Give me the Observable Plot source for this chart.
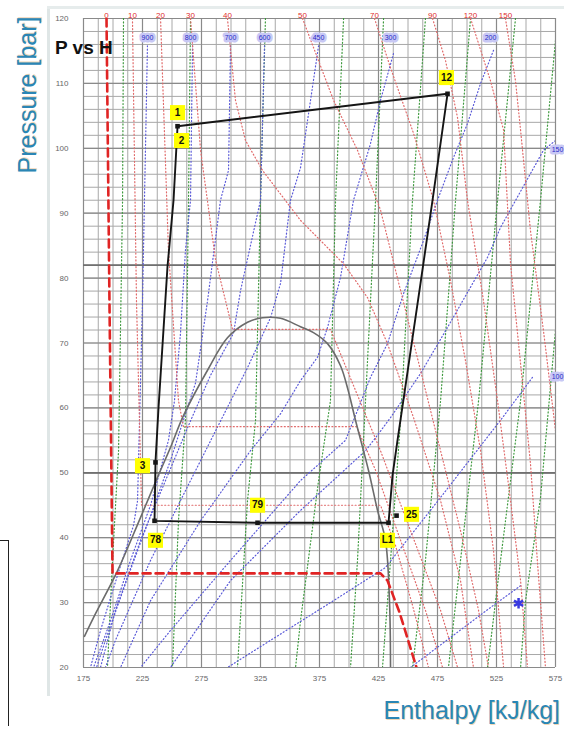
<!DOCTYPE html>
<html><head><meta charset="utf-8">
<script src="https://cdn.jsdelivr.net/npm/d3@7"></script>
<script src="https://cdn.jsdelivr.net/npm/@observablehq/plot@0.6"></script>
<style>
body{margin:0;background:#fff;font-family:"Liberation Sans",Arial,sans-serif;}
#wrap{position:relative;width:564px;height:731px;overflow:hidden;}
#wrap svg{position:absolute;left:0;top:0;}
.frameL{position:absolute;left:47px;top:6px;width:3px;height:690px;background:#dfe6e6;}
.frameT{position:absolute;left:47px;top:6px;width:517px;height:3px;background:#e6ecec;}
.corner{position:absolute;left:0;top:540px;width:8px;height:185px;border-top:1px solid #222;border-right:1px solid #222;}
.ytitle{position:absolute;left:-58px;top:80px;width:170px;height:30px;transform:rotate(-90deg);text-align:center;font-size:25px;color:#2a86b5;text-shadow:1px 1px 0 rgba(225,165,90,.45);white-space:nowrap;line-height:30px;}
.xtitle{position:absolute;right:4px;top:696px;font-size:25px;color:#2a86b5;text-shadow:1px 1px 0 rgba(225,165,90,.45);white-space:nowrap;}
.ptitle{position:absolute;left:55px;top:37px;font-size:19px;font-weight:bold;color:#111;white-space:nowrap;}
</style></head><body>
<div id="wrap">
<div class="frameL"></div><div class="frameT"></div><div class="corner"></div>
</div>
<script>
// ---- axes ----
const hTicks = [175,225,275,325,375,425,475,525,575];
const pTicks = [20,30,40,50,60,70,80,90,100,110,120];
const pRef = [50, 82];

// ---- saturation dome [h, P] ----
const dome = [[175.8,24.8],[183.5,27.7],[203.8,34.9],[223.3,43.1],[237.7,49.3],[248.7,53.9],[259.7,58.8],[280.1,65.8],[297.0,70.8],[314.0,73.2],[326.7,73.9],[342.0,73.8],[358.9,72.5],[369.9,71.6],[381.8,69.9],[392.8,66.5],[398.7,63.1],[405.5,58.1],[416.5,50.4],[424.2,44.2],[430.9,39.6],[434.3,30.3],[435.2,20.0]];

// ---- isotherms (red) ----
const t0 = [[194.5,120],[197.0,76.5],[199.6,34.5],[426.7,34.5],[432.6,33.4],[442.8,28.5],[457.2,20]];
const t10 = [[216.5,120],[219.9,76.5],[224.2,45.0],[426.7,45.0],[439.4,38.8],[453.8,29.6],[467.4,20]];
const t20 = [[240.3,120],[247.0,84.3],[255.5,61.1],[259.7,57.1],[406.4,57.1],[422.5,50.4],[443.7,39.6],[464.8,28.8],[479.3,20]];
const t30 = [[265.7,120],[274.2,99.7],[286.9,82.8],[301.3,72.1],[384.3,72.1],[405.5,62.7],[426.7,53.4],[452.1,41.1],[477.6,28.8],[492.0,20]];
const t40 = [[297.0,120],[303.8,107.4],[312.3,101.2],[326.7,96.6],[358.9,88.9],[395.4,82.2],[415.7,77.0],[432.6,69.9],[454.7,58.5],[477.6,45.7],[494.5,33.4],[505.5,20]];
const t50 = [[360.6,120],[386.9,107.4],[407.2,99.7],[426.7,90.5],[443.7,78.1],[460.6,65.8],[477.6,53.4],[494.5,41.1],[509.8,28.8],[518.2,20]];
const t70 = [[421.6,120],[435.2,112.4],[454.7,102.3],[471.6,92.0],[486.0,79.6],[498.7,67.3],[511.5,53.4],[522.5,38.0],[531.0,20]];
const t90 = [[470.8,120],[481.8,113.5],[492.0,104.7],[500.4,92.0],[514.0,76.5],[525.9,61.1],[536.9,45.7],[545.4,33.4],[551.3,20]];
const t120 = [[503.0,120],[519.9,110.4],[531.0,102.8],[536.9,82.2],[545.4,66.8],[553.8,51.4],[559.8,36.0],[566.5,20]];
const t150 = [[532.6,120],[541.1,110.4],[545.4,102.8],[553.8,87.3],[564.8,71.9],[573.3,59.1],[575.0,56.5]];
const tempNames = ["10","20","30","40","50","70","90","120","150"];
const tempCurves = [t10,t20,t30,t40,t50,t70,t90,t120,t150];
const tempLabels = ["0","10","20","30","40","50","70","90","120","150"];
const tempLabelH = [194.5,216.5,240.3,265.7,297.0,360.6,421.6,470.8,503.0,532.6];

// ---- isochores (blue), kg/m3 ----
const d900 = [[229.2,115.8],[227.5,99.7],[225.0,76.5],[222.5,58.1],[220.8,45.7],[217.4,41.9],[203.8,34.2],[189.4,25.7],[180.9,20]];
const d800 = [[267.4,115.8],[265.7,92.0],[261.4,84.3],[257.2,71.5],[252.1,61.1],[247.0,55.0],[231.8,45.0],[214.8,36.5],[197.9,27.2],[183.5,20]];
const d700 = [[299.6,115.8],[297.9,96.6],[291.1,92.0],[280.1,76.5],[269.9,63.8],[262.3,59.6],[248.7,51.9],[231.8,43.4],[213.1,34.2],[193.6,24.2],[186.0,20]];
const d600 = [[328.4,115.8],[325.0,92.0],[308.1,78.1],[302.1,71.5],[282.6,65.0],[264.0,57.3],[244.5,48.8],[223.3,39.6],[202.1,28.8],[189.4,20]];
const d450 = [[374.2,115.8],[367.4,107.4],[358.9,97.0],[350.4,92.0],[342.0,79.2],[333.5,73.9],[314.0,66.2],[297.0,60.1],[265.7,48.8],[231.8,36.5],[202.1,24.2],[193.6,20]];
const d300 = [[437.7,114.6],[426.7,107.4],[418.2,100.7],[403.8,92.0],[392.8,80.1],[381.8,72.4],[373.3,67.8],[358.9,64.2],[342.0,59.1],[316.5,53.4],[274.2,42.6],[231.8,30.3],[206.4,20]];
const d200 = [[522.5,115.1],[511.5,110.0],[500.4,103.8],[488.6,98.6],[475.0,92.0],[463.2,85.8],[446.2,77.6],[432.6,69.9],[418.2,64.7],[407.2,59.6],[397.0,55.0],[358.9,48.8],[299.6,36.5],[248.7,25.7],[223.3,20]];
const d150 = [[575.0,101.2],[564.8,99.7],[528.4,87.8],[517.4,83.2],[483.5,72.4],[460.6,65.3],[435.2,58.5],[420.8,55.0],[414.0,53.4],[358.9,44.2],[299.6,33.4],[248.7,20]];
const d100 = [[555.5,64.7],[528.4,58.1],[477.6,46.2],[430.9,35.4],[386.9,30.3],[297.0,20]];
const d50 = [[545.4,32.6],[522.5,29.6],[452.1,20]];
const densNames = ["900","800","700","600","450","300","200","150","100","50"];
const densCurves = [d900,d800,d700,d600,d450,d300,d200,d150,d100,d50];
const densLabels = ["900","800","700","600","450","300","200"];
const densLabelH = [229.2,265.7,299.6,328.4,374.2,435.2,519.9];
const sideLabels = ["150","100"];
const sideLabelH = [576.7,576.7];
const sideLabelP = [99.7,64.8];
const starPoint = [[543.7,29.9]];

// ---- isentropes (green) ----
const s1 = [[208.9,120],[208.1,92.0],[204.7,53.4],[199.6,36.5],[195.3,20]];
const s2 = [[265.7,120],[264.0,92.0],[261.4,58.1],[255.5,42.6],[250.4,20]];
const s3 = [[329.2,120],[325.0,92.0],[320.8,58.1],[314.0,45.7],[305.5,20]];
const s4 = [[395.4,120],[388.6,92.0],[384.3,61.1],[374.2,48.8],[358.9,27.2],[354.7,20]];
const s5 = [[429.3,120],[422.5,92.0],[414.0,61.1],[407.2,36.5],[401.3,20]];
const s6 = [[464.8,120],[453.8,92.0],[443.7,58.1],[435.2,36.5],[428.4,20]];
const s7 = [[503.0,120],[490.3,92.0],[477.6,61.1],[464.8,36.5],[453.8,20]];
const s8 = [[541.1,120],[525.9,92.0],[509.8,61.1],[494.5,36.5],[484.3,20]];
const s9 = [[575.0,116.6],[562.3,92.0],[545.4,61.1],[528.4,36.5],[517.4,20]];
const s10 = [[575.0,71.9],[562.3,46.2],[549.6,30.3],[545.4,20]];
const entCurves = [s1,s2,s3,s4,s5,s6,s7,s8,s9,s10];

// ---- refrigeration cycle ----
const cycle = [[254.7,103.4],[251.3,92.0],[246.2,81.8],[238.6,60.1],[236.0,51.6],[235.2,42.6],[322.5,42.3],[433.5,42.3],[436.9,49.6],[441.1,55.0],[460.6,79.2],[470.8,92.0],[483.5,108.4],[254.7,103.4]];
const cycleMarkers = [[254.7,103.4],[236.0,51.6],[235.2,42.6],[322.5,42.3],[433.5,42.3],[483.5,108.4],[440.3,43.4]];
const pointNames = ["1","2","12","3","78","79","L1","25"];
const pointLabelH = [254.7,258.1,482.6,225.0,236.0,322.5,432.6,453.0];
const pointLabelP = [105.5,101.2,110.9,51.1,39.6,45.0,39.6,43.6];

// ---- build tables ----
const flat = (names, curves) => curves.flatMap((c,i) => c.map(([h,p]) => ({name:names[i], h, p})));
const tempTable = flat(tempNames, tempCurves);
const densTable = flat(densNames, densCurves);
const entTable = flat(entCurves.map((_,i)=>"s"+i), entCurves);
const pts = a => a.map(([h,p]) => ({h,p}));
const tLab = tempLabels.map((t,i)=>({t, h:tempLabelH[i], p:120}));
const dLab = densLabels.map((t,i)=>({t, h:densLabelH[i], p:117.1})).concat(sideLabels.map((t,i)=>({t,h:sideLabelH[i],p:sideLabelP[i]})));
const pLab = pointNames.map((t,i)=>({t, h:pointLabelH[i], p:pointLabelP[i]}));

const dot = {strokeDasharray:"1,2.4", strokeWidth:1.2, clip:true};

const chart = Plot.plot({
  width:564, height:731,
  marginLeft:83, marginRight:9, marginTop:18, marginBottom:64,
  x:{domain:[175,575]},
  y:{domain:[20,120]},
  style:{fontFamily:"'Liberation Sans',Arial,sans-serif", background:"transparent"},
  marks:[
    Plot.ruleX(d3.range(175, 576, 12.5), {stroke:"#a8a8a8", strokeWidth:1}),
    Plot.ruleY(d3.range(20, 121, 2), {stroke:"#a8a8a8", strokeWidth:1}),
    Plot.ruleX(hTicks, {stroke:"#8a8a8a", strokeWidth:1.2}),
    Plot.ruleY(pTicks, {stroke:"#8a8a8a", strokeWidth:1.2}),
    Plot.ruleY(pRef, {stroke:"#707070", strokeWidth:1.8}),
    Plot.axisX({ticks:hTicks, tickSize:0, tickPadding:8, fontSize:8, fill:"#666", label:null}),
    Plot.axisY({ticks:pTicks, tickSize:0, tickPadding:15, fontSize:8, fill:"#666", label:null}),
    Plot.line(entTable, {x:"h", y:"p", z:"name", stroke:"#3f9a3f", ...dot}),
    Plot.line(densTable, {x:"h", y:"p", z:"name", stroke:"#5a5ad8", ...dot}),
    Plot.line(tempTable, {x:"h", y:"p", z:"name", stroke:"#e06a6a", ...dot}),
    Plot.line(pts(dome), {x:"h", y:"p", stroke:"#6b6b6b", strokeWidth:1.6, curve:"catmull-rom", clip:true}),
    Plot.line(pts(t0), {x:"h", y:"p", stroke:"#e02424", strokeWidth:2.6, strokeDasharray:"8,5", clip:true}),
    Plot.line(pts(cycle), {x:"h", y:"p", stroke:"#151515", strokeWidth:1.9}),
    Plot.dot(pts(cycleMarkers), {x:"h", y:"p", symbol:"square", r:2.6, fill:"#151515"}),
    Plot.dot(pts(starPoint), {x:"h", y:"p", symbol:"asterisk", r:5, stroke:"#3a3ae0", strokeWidth:2.5}),
    Plot.text(tLab, {x:"h", y:"p", text:"t", dy:-3, fontSize:8, fill:"#e02c2c"}),
    Plot.text(dLab, {x:"h", y:"p", text:"t", fontSize:7, fill:"#2828c8", stroke:"#c8c8f4", strokeWidth:5, paintOrder:"stroke", strokeLinejoin:"round"}),
    Plot.dot(pLab, {x:"h", y:"p", symbol:"square", r:8.5, fill:"#ffff00"}),
    Plot.text(pLab, {x:"h", y:"p", text:"t", fontSize:10, fontWeight:"bold", fill:"#111"})
  ]
});
const wrap = document.getElementById("wrap");
wrap.insertBefore(chart, wrap.firstChild);
const add = (cls, txt) => { const d=document.createElement("div"); d.className=cls; d.textContent=txt; wrap.appendChild(d); };
add("ytitle","Pressure [bar]");
add("xtitle","Enthalpy [kJ/kg]");
add("ptitle","P vs H");
</script>
</body></html>
